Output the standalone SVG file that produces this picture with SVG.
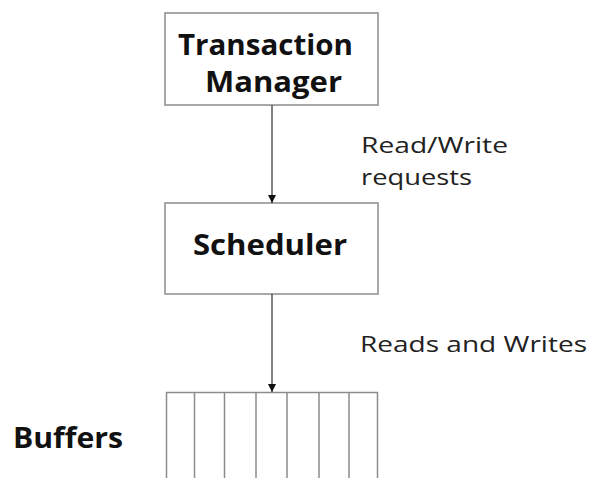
<svg xmlns="http://www.w3.org/2000/svg" width="589" height="478" viewBox="0 0 589 478">
<style>
.box{fill:#fff;stroke:#8c8c8c;stroke-width:1.5}
.cell{stroke:#8c8c8c;stroke-width:1.5;fill:none}
.title{font-family:"Open Sans","DejaVu Sans",sans-serif;font-weight:bold;font-size:28px;fill:#111}
.lbl{font-family:"Open Sans","DejaVu Sans",sans-serif;font-size:22px;fill:#222}
.edge{stroke:#333;stroke-width:1.2;fill:none;marker-end:url(#ah)}
</style>
<defs>
<marker id="ah" viewBox="0 0 10 10" refX="10" refY="5" markerWidth="8" markerHeight="8" markerUnits="userSpaceOnUse" orient="auto">
<path d="M0,0 L10,5 L0,10 z" fill="#111"/>
</marker>
</defs>
<g id="tm">
<rect class="box" x="165" y="13" width="213" height="92"/>
<text class="title" x="178" y="55" textLength="175" lengthAdjust="spacingAndGlyphs">Transaction</text>
<text class="title" x="205" y="92" textLength="137" lengthAdjust="spacingAndGlyphs">Manager</text>
</g>
<g id="scheduler">
<rect class="box" x="165" y="203" width="213" height="91"/>
<text class="title" x="193" y="255" textLength="154" lengthAdjust="spacingAndGlyphs">Scheduler</text>
</g>
<g id="buffers">
<path class="cell" d="M166.5,480 V392.5 H377.5 V480 M194.5,392.5 V480 M224.5,392.5 V480 M256,392.5 V480 M287,392.5 V480 M319,392.5 V480 M349,392.5 V480"/>
<text class="title" x="13" y="448" textLength="110" lengthAdjust="spacingAndGlyphs">Buffers</text>
</g>
<g id="connectors">
<line class="edge" x1="272" y1="105" x2="272" y2="203"/>
<text class="lbl" x="361" y="153" textLength="147" lengthAdjust="spacingAndGlyphs">Read/Write</text>
<text class="lbl" x="361" y="185" textLength="111" lengthAdjust="spacingAndGlyphs">requests</text>
<line class="edge" x1="272" y1="294" x2="272" y2="392"/>
<text class="lbl" x="360" y="352" textLength="227" lengthAdjust="spacingAndGlyphs">Reads and Writes</text>
</g>
</svg>
